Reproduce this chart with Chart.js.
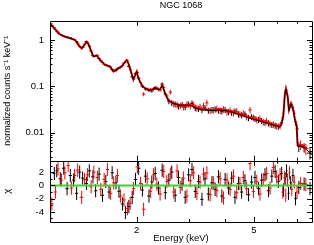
<!DOCTYPE html>
<html>
<head>
<meta charset="utf-8">
<script src="https://cdn.jsdelivr.net/npm/chart.js@4"></script>
<style>
  html, body { margin: 0; padding: 0; background: #fff; }
  #spec { display: block; }
</style>
</head>
<body>
<canvas id="spec" width="314" height="245"></canvas>
<script>
// NGC 1068 - unfolded counts spectrum, two detectors (black / red), model and chi residuals

const enBlack = [1.02, 1.05, 1.07, 1.10, 1.13, 1.16, 1.19, 1.22, 1.25, 1.28,
  1.31, 1.35, 1.38, 1.42, 1.45, 1.49, 1.53, 1.57, 1.61, 1.65,
  1.70, 1.74, 1.79, 1.83, 1.88, 1.93, 1.98, 2.03, 2.09, 2.14,
  2.20, 2.25, 2.31, 2.37, 2.44, 2.50, 2.57, 2.63, 2.70, 2.77,
  2.85, 2.92, 3.00, 3.08, 3.16, 3.24, 3.33, 3.41, 3.50, 3.60,
  3.69, 3.79, 3.89, 3.99, 4.10, 4.20, 4.31, 4.43, 4.54, 4.66,
  4.79, 4.91, 5.04, 5.18, 5.31, 5.45, 5.60, 5.75, 5.90, 6.05,
  6.21, 6.30, 6.38, 6.45, 6.55, 6.66, 6.78, 6.92, 7.10, 7.40,
  7.75];
const fluxBlack = [2.25, 1.85, 1.55, 1.32, 1.22, 1.17, 1.12, 1.04, 0.93, 0.72,
  0.70, 0.93, 0.74, 0.47, 0.45, 0.40, 0.33, 0.29, 0.27, 0.23,
  0.22, 0.25, 0.28, 0.34, 0.27, 0.16, 0.19, 0.15, 0.10, 0.088,
  0.082, 0.080, 0.094, 0.086, 0.112, 0.068, 0.048, 0.044, 0.041, 0.037,
  0.040, 0.036, 0.041, 0.043, 0.034, 0.033, 0.031, 0.034, 0.030, 0.031,
  0.032, 0.030, 0.029, 0.031, 0.028, 0.027, 0.029, 0.025, 0.024, 0.025,
  0.021, 0.022, 0.020, 0.019, 0.018, 0.0165, 0.016, 0.0148, 0.0142, 0.0136,
  0.0165, 0.026, 0.075, 0.082, 0.040, 0.040, 0.034, 0.017, 0.0050, 0.0048,
  0.0036];
const errBlack = [0.08, 0.06, 0.05, 0.04, 0.04, 0.035, 0.035, 0.03, 0.03, 0.025,
  0.025, 0.03, 0.025, 0.02, 0.02, 0.018, 0.016, 0.015, 0.014, 0.013,
  0.013, 0.014, 0.015, 0.017, 0.015, 0.011, 0.013, 0.011, 0.008, 0.007,
  0.007, 0.007, 0.008, 0.007, 0.009, 0.007, 0.007, 0.0065, 0.006, 0.0055,
  0.006, 0.0055, 0.006, 0.0065, 0.005, 0.005, 0.0047, 0.005, 0.0045, 0.0047,
  0.0048, 0.0045, 0.0044, 0.0047, 0.0042, 0.0041, 0.0044, 0.0038, 0.0036, 0.0038,
  0.0032, 0.0033, 0.003, 0.0029, 0.0027, 0.0025, 0.0024, 0.0022, 0.0021, 0.002,
  0.0025, 0.0035, 0.007, 0.0075, 0.005, 0.005, 0.0045, 0.003, 0.0012, 0.0011,
  0.001];
const chiBlack = [-5.0, 1.8, 2.2, 1.0, 2.6, -0.5, 1.5, 0.8, -1.2, 2.0,
  1.1, 0.3, 2.2, 1.3, -0.8, 1.7, -1.5, 0.6, -1.0, 1.9,
  0.4, -0.9, -2.8, -4.1, -3.2, -1.8, 0.9, 2.6, -0.7, 1.4,
  -1.6, 0.5, 1.8, -0.4, 2.3, -1.1, 0.8, 2.0, -1.5, 1.2,
  0.2, -1.8, 1.6, 2.4, -0.9, 0.6, -2.1, 1.0, -1.3, 0.4,
  -0.6, 1.3, -1.6, 0.9, -0.4, 1.1, -1.8, 0.3, -1.0, 0.7,
  -1.4, 0.5, 1.2, -0.5, 0.8, 1.6, -0.8, 1.4, 2.1, 0.6,
  1.8, -0.7, 1.0, 2.2, -1.2, 0.4, 1.5, -2.0, -0.3, 0.2,
  -0.5];

const enRed = [1.03, 1.06, 1.08, 1.11, 1.14, 1.17, 1.20, 1.23, 1.26, 1.30,
  1.33, 1.36, 1.40, 1.43, 1.47, 1.51, 1.55, 1.59, 1.63, 1.67,
  1.72, 1.76, 1.81, 1.86, 1.90, 1.95, 2.01, 2.06, 2.11, 2.17,
  2.23, 2.28, 2.34, 2.40, 2.47, 2.53, 2.60, 2.67, 2.74, 2.81,
  2.88, 2.96, 3.04, 3.12, 3.20, 3.28, 3.37, 3.46, 3.55, 3.64,
  3.74, 3.84, 3.94, 4.05, 4.15, 4.26, 4.37, 4.48, 4.60, 4.72,
  4.85, 4.98, 5.11, 5.24, 5.38, 5.52, 5.67, 5.82, 5.97, 6.13,
  6.26, 6.34, 6.41, 6.50, 6.60, 6.72, 6.85, 7.00, 7.20, 7.50];
const fluxRed = [2.05, 1.70, 1.48, 1.30, 1.19, 1.14, 1.08, 1.02, 0.86, 0.68,
  0.82, 0.90, 0.58, 0.45, 0.46, 0.36, 0.30, 0.28, 0.26, 0.21,
  0.24, 0.26, 0.32, 0.36, 0.23, 0.145, 0.20, 0.12, 0.068, 0.087,
  0.084, 0.088, 0.092, 0.084, 0.095, 0.062, 0.075, 0.042, 0.040, 0.038,
  0.036, 0.041, 0.038, 0.040, 0.034, 0.036, 0.038, 0.044, 0.030, 0.031,
  0.033, 0.030, 0.032, 0.028, 0.030, 0.027, 0.029, 0.025, 0.026, 0.022,
  0.031, 0.021, 0.019, 0.020, 0.017, 0.018, 0.0155, 0.0150, 0.0138, 0.0140,
  0.021, 0.050, 0.088, 0.062, 0.034, 0.040, 0.026, 0.012, 0.0055, 0.0045];
const errRed = [0.07, 0.06, 0.05, 0.045, 0.04, 0.04, 0.038, 0.035, 0.03, 0.025,
  0.03, 0.032, 0.022, 0.02, 0.02, 0.017, 0.015, 0.014, 0.014, 0.012,
  0.013, 0.014, 0.016, 0.018, 0.014, 0.01, 0.013, 0.009, 0.007, 0.008,
  0.008, 0.008, 0.008, 0.008, 0.009, 0.007, 0.009, 0.007, 0.0065, 0.0062,
  0.006, 0.0068, 0.0062, 0.0066, 0.0056, 0.006, 0.0062, 0.0072, 0.005, 0.0051,
  0.0055, 0.005, 0.0053, 0.0046, 0.005, 0.0045, 0.0048, 0.0041, 0.0043, 0.0037,
  0.005, 0.0035, 0.0032, 0.0033, 0.0028, 0.003, 0.0026, 0.0025, 0.0023, 0.0023,
  0.0032, 0.006, 0.009, 0.0075, 0.005, 0.0055, 0.004, 0.0022, 0.0013, 0.0012];
const chiRed = [-2.8, -1.0, 2.5, 0.8, 1.9, 3.0, -0.4, 1.5, 2.3, -1.8,
  0.9, 1.6, -0.2, 2.0, 1.2, -0.6, 0.9, 2.4, -1.2, 0.4,
  1.5, -1.6, -2.2, -3.5, -2.7, -0.5, 2.8, 0.3, -3.6, 1.0,
  -0.9, 1.6, 0.2, -1.3, 2.1, 0.6, 1.7, -1.0, 2.2, -0.3,
  1.1, -1.6, 0.7, 1.9, -1.2, 0.5, 1.7, 1.9, -1.4, 0.4,
  -0.8, 1.0, -1.9, 0.8, -0.6, 1.4, -1.1, 0.3, 1.2, -0.5,
  3.3, -0.9, 0.6, -1.3, 0.9, 1.8, -0.4, 2.7, 1.3, 1.6,
  -1.0, 1.2, -1.5, 0.8, 1.9, -0.6, 0.5, -1.0, 0.3, 0.1];

const modelEn = [1.015, 1.05, 1.084, 1.11, 1.142, 1.189, 1.236, 1.268, 1.301, 1.33,
  1.352, 1.37, 1.389, 1.425, 1.463, 1.50, 1.56, 1.622, 1.666, 1.733,
  1.778, 1.82, 1.849, 1.875, 1.897, 1.948, 2.0, 2.025, 2.079, 2.133,
  2.218, 2.306, 2.398, 2.442, 2.494, 2.559, 2.66, 2.804, 2.99, 3.074,
  3.197, 3.366, 3.64, 3.836, 4.20, 4.78, 5.45, 5.89, 6.12, 6.21,
  6.29, 6.37, 6.42, 6.51, 6.57, 6.68, 6.80, 6.89, 6.98, 7.03,
  7.35, 7.55, 7.87];
const modelRed = [2.3, 1.8, 1.4, 1.28, 1.18, 1.09, 1.0, 0.78, 0.66, 0.8,
  0.92, 0.82, 0.66, 0.44, 0.47, 0.37, 0.29, 0.27, 0.21, 0.245,
  0.27, 0.33, 0.37, 0.31, 0.245, 0.14, 0.21, 0.15, 0.107, 0.09,
  0.083, 0.09, 0.085, 0.107, 0.071, 0.05, 0.043, 0.039, 0.039, 0.039,
  0.034, 0.032, 0.031, 0.032, 0.029, 0.022, 0.017, 0.0146, 0.0135, 0.016,
  0.024, 0.07, 0.09, 0.06, 0.031, 0.043, 0.031, 0.019, 0.0146, 0.0054,
  0.0052, 0.0044, null];
const modelBlack = [2.3, 1.8, 1.4, 1.28, 1.18, 1.09, 1.0, 0.78, 0.66, 0.8,
  0.92, 0.82, 0.66, 0.44, 0.47, 0.37, 0.29, 0.27, 0.21, 0.245,
  0.27, 0.33, 0.37, 0.31, 0.245, 0.14, 0.21, 0.15, 0.107, 0.09,
  0.083, 0.09, 0.085, 0.107, 0.071, 0.05, 0.043, 0.039, 0.039, 0.038,
  0.033, 0.031, 0.030, 0.031, 0.028, 0.021, 0.0165, 0.0142, 0.0132, 0.0155,
  0.023, 0.068, 0.088, 0.058, 0.030, 0.042, 0.030, 0.018, 0.014, 0.0052,
  0.0050, 0.0043, 0.0033];

const xLabels = [2, 5];
const xMarks = [2, 3, 4, 5, 6, 7];
const yLabels = [0.01, 0.1, 1];
const chiLabels = [-4, -2, 0, 2];

const RED = '#ff0000';
const GREEN = '#3ad43a';
Chart.defaults.font.family = '"Liberation Sans", Arial, Helvetica, sans-serif';
Chart.defaults.color = '#000';

// bin edges halfway (in log) between neighbouring channels
function edges(en) {
  const lo = [], hi = [];
  for (let i = 0; i < en.length; i++) {
    const prev = i > 0 ? en[i - 1] : en[i] * en[i] / en[i + 1];
    const next = i < en.length - 1 ? en[i + 1] : en[i] * en[i] / en[i - 1];
    lo.push(Math.sqrt(prev * en[i]));
    hi.push(Math.sqrt(next * en[i]));
  }
  return {lo, hi};
}
const binB = edges(enBlack), binR = edges(enRed);

function points(xs, ys) {
  return xs.map((v, i) => ({x: v, y: ys[i]}));
}

// draws the data crosses (bin width x error) through the chart scales
const crosses = {
  id: 'crosses',
  beforeDatasetsDraw(chart) {
    const {ctx, chartArea: a, scales} = chart;
    const xs = scales.x;
    chart.data.datasets.forEach(ds => {
      if (!ds.yErr) return;
      const ys = scales[ds.yAxisID];
      ctx.save();
      ctx.beginPath();
      ctx.rect(a.left, ys.top, a.right - a.left, ys.bottom - ys.top);
      ctx.clip();
      ctx.strokeStyle = ds.borderColor;
      ctx.lineWidth = 1;
      ctx.beginPath();
      ds.data.forEach((p, j) => {
        const px = xs.getPixelForValue(p.x);
        const py = ys.getPixelForValue(p.y);
        ctx.moveTo(xs.getPixelForValue(ds.bins.lo[j]), py);
        ctx.lineTo(xs.getPixelForValue(ds.bins.hi[j]), py);
        ctx.moveTo(px, ys.getPixelForValue(p.y - ds.yErr[j]));
        ctx.lineTo(px, ys.getPixelForValue(p.y + ds.yErr[j]));
      });
      ctx.stroke();
      ctx.restore();
    });
  }
};

// pgplot-like boxes with inward ticks
const frame = {
  id: 'frame',
  afterDraw(chart) {
    const {ctx, chartArea: a, scales: {x, y, yr}} = chart;
    const r = v => Math.round(v) + 0.5;
    ctx.save();
    ctx.strokeStyle = '#000';
    ctx.lineWidth = 1;
    ctx.beginPath();
    [y, yr].forEach(s => ctx.rect(r(a.left), r(s.top), Math.round(a.right - a.left), Math.round(s.bottom - s.top)));
    xMarks.forEach(v => {
      const px = r(x.getPixelForValue(v));
      const len = xLabels.includes(v) ? 5 : 3;
      [y, yr].forEach(s => {
        ctx.moveTo(px, s.top); ctx.lineTo(px, s.top + len);
        ctx.moveTo(px, s.bottom); ctx.lineTo(px, s.bottom - len);
      });
    });
    for (let d = 0.001; d < 10; d *= 10) {
      for (let k = 1; k < 10; k++) {
        const v = k * d;
        if (v < y.min || v > y.max) continue;
        const py = r(y.getPixelForValue(v));
        const len = k === 1 ? 5 : 2.5;
        ctx.moveTo(a.left, py); ctx.lineTo(a.left + len, py);
        ctx.moveTo(a.right, py); ctx.lineTo(a.right - len, py);
      }
    }
    for (let v = -5; v <= 3; v++) {
      const py = r(yr.getPixelForValue(v));
      const len = v % 2 === 0 ? 5 : 2.5;
      ctx.moveTo(a.left, py); ctx.lineTo(a.left + len, py);
      ctx.moveTo(a.right, py); ctx.lineTo(a.right - len, py);
    }
    ctx.stroke();
    ctx.restore();
  }
};

const tickFont = {size: 9.5};

new Chart(document.getElementById('spec'), {
  type: 'scatter',
  data: {
    datasets: [
      {label: 'black data', data: points(enBlack, fluxBlack), yErr: errBlack, bins: binB,
        yAxisID: 'y', borderColor: '#000', pointRadius: 0},
      {label: 'red data', data: points(enRed, fluxRed), yErr: errRed, bins: binR,
        yAxisID: 'y', borderColor: RED, pointRadius: 0},
      {type: 'line', label: 'black model', data: points(modelEn, modelBlack), yAxisID: 'y',
        borderColor: '#000', borderWidth: 1, pointRadius: 0, tension: 0},
      {type: 'line', label: 'red model', data: points(modelEn, modelRed), yAxisID: 'y',
        borderColor: RED, borderWidth: 2, pointRadius: 0, tension: 0},
      {label: 'black chi', data: points(enBlack, chiBlack), yErr: enBlack.map(() => 1), bins: binB,
        yAxisID: 'yr', borderColor: '#000', pointRadius: 0},
      {label: 'red chi', data: points(enRed, chiRed), yErr: enRed.map(() => 1), bins: binR,
        yAxisID: 'yr', borderColor: RED, pointRadius: 0},
      {type: 'line', label: 'zero', data: [{x: 1.015, y: 0}, {x: 7.87, y: 0}], yAxisID: 'yr',
        borderColor: GREEN, borderWidth: 2, pointRadius: 0}
    ]
  },
  options: {
    responsive: false,
    animation: false,
    layout: {padding: {left: 0, right: 2, top: 0, bottom: 0}},
    plugins: {
      legend: {display: false},
      tooltip: {enabled: false},
      title: {display: true, text: 'NGC 1068', fullSize: false,
        font: {size: 9, weight: 'normal'}, padding: {top: 0, bottom: 10}}
    },
    scales: {
      x: {
        type: 'logarithmic', min: 1.015, max: 7.87, position: 'bottom',
        grid: {display: false, drawTicks: false}, border: {display: false},
        ticks: {font: tickFont, padding: 3, autoSkip: false, maxRotation: 0, callback: v => String(v)},
        afterBuildTicks: s => { s.ticks = xLabels.map(v => ({value: v})); },
        afterFit: s => { s.height = 23; },
        title: {display: true, text: 'Energy (keV)', font: {size: 9.5}, padding: {top: 0, bottom: 1}}
      },
      yr: {
        type: 'linear', min: -5.53, max: 3.73, position: 'left', stack: 'panels', stackWeight: 61.3,
        grid: {display: false, drawTicks: false}, border: {display: false},
        ticks: {font: tickFont, padding: 6, autoSkip: false, callback: v => String(v)},
        afterBuildTicks: s => { s.ticks = chiLabels.map(v => ({value: v})); },
        afterFit: s => { s.width = 50; },
        title: {display: true, text: 'χ', font: {size: 9.5}, padding: {top: 2, bottom: 0}}
      },
      y: {
        type: 'logarithmic', min: 0.00247, max: 2.61, position: 'left', stack: 'panels', stackWeight: 140,
        grid: {display: false, drawTicks: false}, border: {display: false},
        ticks: {font: tickFont, padding: 6, autoSkip: false, callback: v => String(v)},
        afterBuildTicks: s => { s.ticks = yLabels.map(v => ({value: v})); },
        afterFit: s => { s.width = 50; },
        title: {display: true, text: 'normalized counts s⁻¹ keV⁻¹', font: {size: 9}, padding: {top: 2, bottom: 0}}
      }
    }
  },
  plugins: [crosses, frame]
});
</script>
</body>
</html>
